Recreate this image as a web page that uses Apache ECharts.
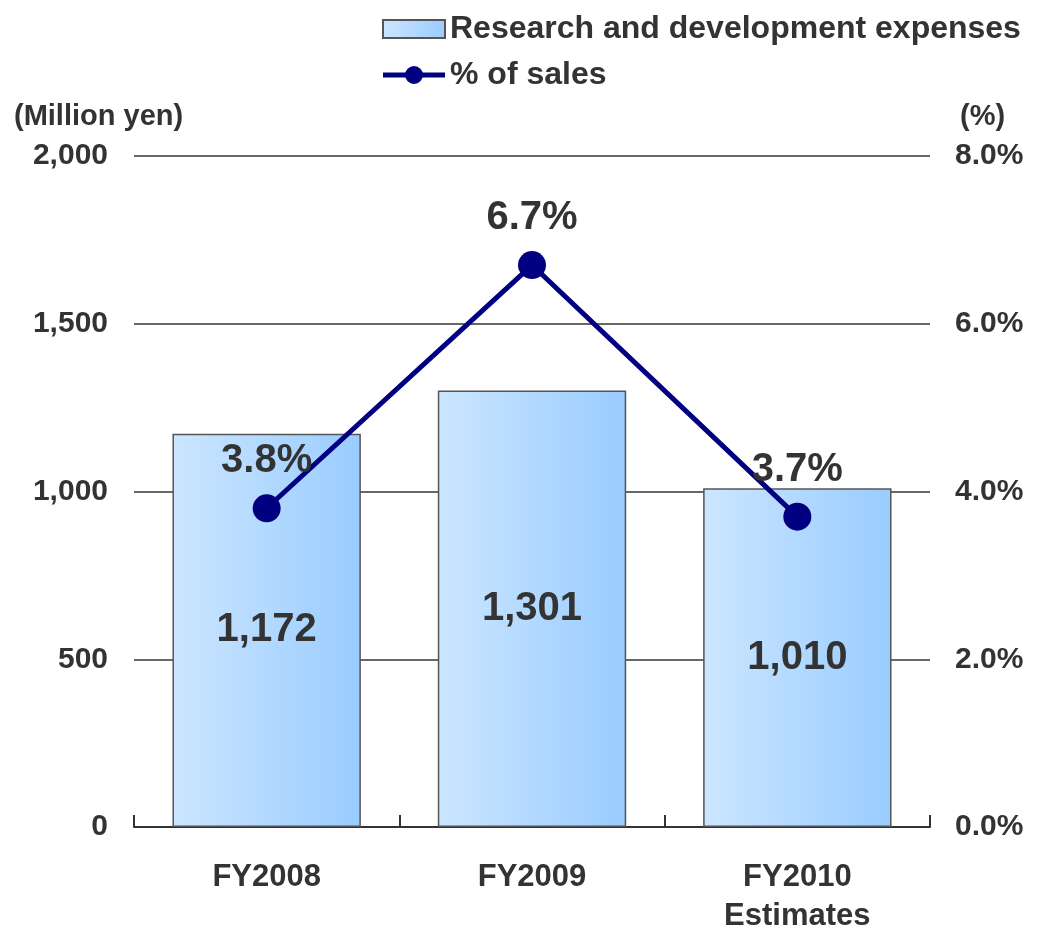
<!DOCTYPE html>
<html>
<head>
<meta charset="utf-8">
<script src="https://cdn.jsdelivr.net/npm/echarts@6/dist/echarts.min.js"></script>
<style>
html,body{margin:0;padding:0;background:#fff;}
#chart{width:1041px;height:937px;}
</style>
</head>
<body>
<div id="chart"></div>
<script>
const categories = ['FY2008', 'FY2009', 'FY2010\nEstimates'];
const rdExpenses = [1172, 1301, 1010];
const pctOfSales = [3.8, 6.7, 3.7];
const leftTicks = { min: 0, max: 2000, interval: 500 };
const rightTicks = { min: 0, max: 8, interval: 2 };
const seriesNames = ['Research and development expenses', '% of sales'];

const FONT = '"Liberation Sans", Arial, sans-serif';
const TXT = '#333333';
const LINE_ICON = 'path://M0,6.5 L62,6.5 L62,11.5 L0,11.5 Z M22,9 A9,9 0 1,1 40,9 A9,9 0 1,1 22,9 Z';

const chart = echarts.init(document.getElementById('chart'), null, { renderer: 'canvas' });
chart.setOption({
  animation: false,
  backgroundColor: '#ffffff',
  textStyle: { fontFamily: FONT, fontWeight: 'bold', color: TXT },
  legend: {
    orient: 'vertical',
    left: 377,
    top: 8,
    itemWidth: 62,
    itemHeight: 18,
    itemGap: 14,
    textStyle: { fontFamily: FONT, fontWeight: 'bold', fontSize: 32, lineHeight: 32, color: TXT },
    data: [
      { name: seriesNames[0], icon: 'rect' },
      { name: seriesNames[1], icon: LINE_ICON, itemStyle: { color: '#000080', borderWidth: 0 }, lineStyle: { width: 0 } }
    ]
  },
  graphic: [
    { type: 'text', left: 14, top: 102, style: { text: '(Million yen)', font: 'bold 29px ' + FONT, fill: TXT } },
    { type: 'text', left: 960, top: 102, style: { text: '(%)', font: 'bold 29px ' + FONT, fill: TXT } }
  ],
  grid: { left: 134, right: 111, top: 156, bottom: 110, containLabel: false },
  xAxis: {
    type: 'category',
    data: categories,
    boundaryGap: true,
    axisLine: { show: true, lineStyle: { color: '#333', width: 2 } },
    axisTick: { show: true, inside: true, length: 12, lineStyle: { color: '#333', width: 2 } },
    axisLabel: { fontFamily: FONT, fontWeight: 'bold', fontSize: 31, lineHeight: 39, color: TXT, margin: 31 }
  },
  yAxis: [
    {
      type: 'value', min: leftTicks.min, max: leftTicks.max, interval: leftTicks.interval,
      axisLine: { show: false }, axisTick: { show: false },
      splitLine: { show: true, lineStyle: { color: '#333', width: 1.5 } },
      axisLabel: {
        fontFamily: FONT, fontWeight: 'bold', fontSize: 30, color: TXT, margin: 26,
        formatter: v => v.toLocaleString('en-US')
      }
    },
    {
      type: 'value', min: rightTicks.min, max: rightTicks.max, interval: rightTicks.interval,
      position: 'right',
      axisLine: { show: false }, axisTick: { show: false },
      splitLine: { show: false },
      axisLabel: {
        fontFamily: FONT, fontWeight: 'bold', fontSize: 30, color: TXT, margin: 25,
        formatter: v => v.toFixed(1) + '%'
      }
    }
  ],
  series: [
    {
      name: seriesNames[0],
      type: 'bar',
      data: rdExpenses,
      barWidth: '71%',
      itemStyle: {
        color: new echarts.graphic.LinearGradient(0, 0, 1, 0, [
          { offset: 0, color: '#cce6ff' },
          { offset: 1, color: '#99ccff' }
        ]),
        borderColor: '#555555',
        borderWidth: 1.5
      },
      label: {
        show: true, position: 'inside',
        fontFamily: FONT, fontWeight: 'bold', fontSize: 40, color: TXT,
        formatter: p => p.value.toLocaleString('en-US')
      },
      z: 2
    },
    {
      name: seriesNames[1],
      type: 'line',
      yAxisIndex: 1,
      data: pctOfSales,
      symbol: 'circle',
      symbolSize: 28,
      lineStyle: { color: '#000080', width: 5 },
      itemStyle: { color: '#000080' },
      label: {
        show: true, position: 'top', distance: 13,
        fontFamily: FONT, fontWeight: 'bold', fontSize: 40, color: TXT,
        formatter: p => p.value.toFixed(1) + '%'
      },
      z: 5
    }
  ]
});
</script>
</body>
</html>
